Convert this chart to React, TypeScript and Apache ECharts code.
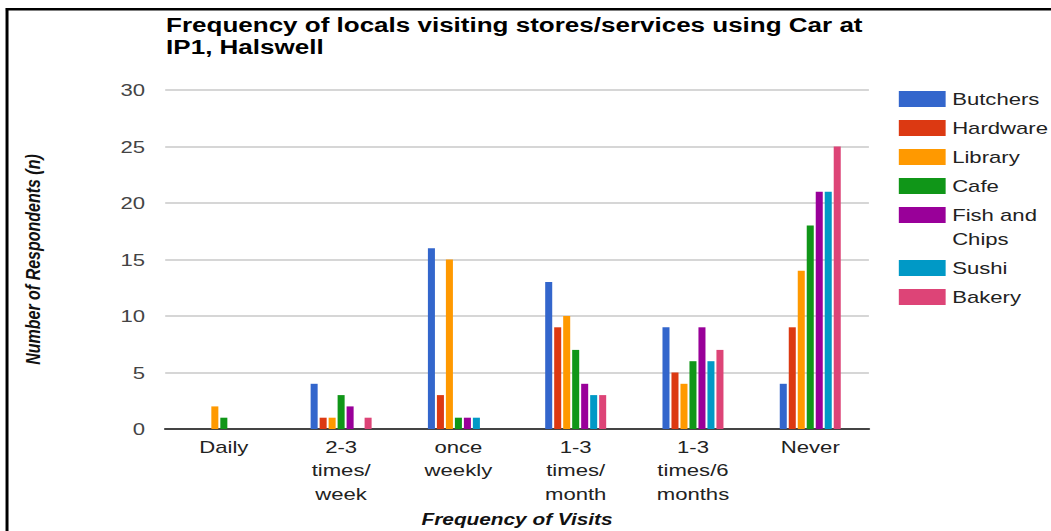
import React, { useEffect, useRef } from 'react';
import * as echarts from 'echarts';

// ---- data ----
const categories = ['Daily', '2-3 times/week', 'once weekly', '1-3 times/month', '1-3 times/6 months', 'Never'];
const tickLabels = ['Daily', '2-3\ntimes/\nweek', 'once\nweekly', '1-3\ntimes/\nmonth', '1-3\ntimes/6\nmonths', 'Never'];
const seriesNames = ['Butchers', 'Hardware', 'Library', 'Cafe', 'Fish and Chips', 'Sushi', 'Bakery'];
const butchers = [0, 4, 16, 13, 9, 4];
const hardware = [0, 1, 3, 9, 5, 9];
const library = [2, 1, 15, 10, 4, 14];
const cafe = [1, 3, 1, 7, 6, 18];
const fishAndChips = [0, 2, 1, 4, 9, 21];
const sushi = [0, 0, 1, 3, 6, 21];
const bakery = [0, 1, 0, 3, 7, 25];
const seriesValues = [butchers, hardware, library, cafe, fishAndChips, sushi, bakery];
const colors = ['#3366cc', '#dc3912', '#ff9900', '#109618', '#990099', '#0099c6', '#dd4477'];
const yMin = 0;
const yMax = 30;
const yInterval = 5;
const titleText = 'Frequency of locals visiting stores/services using Car at\nIP1, Halswell';
const xAxisTitle = 'Frequency of Visits';
const yAxisTitle = 'Number of Respondents (n)';

const FONT = '"Liberation Sans", Arial, sans-serif';
const PAGE_W = 1051;
const PAGE_H = 531;
const STRETCH = 1.3;
const INNER_W = Math.round(PAGE_W / STRETCH);
const SX = PAGE_W / INNER_W;

export default function App() {
  const ref = useRef<HTMLDivElement>(null);

  useEffect(() => {
    if (!ref.current) return;
    const chart = echarts.init(ref.current, undefined, { renderer: 'svg' });

    const legendBase: any = {
      orient: 'vertical',
      left: 691,
      padding: 0,
      itemWidth: 36,
      itemHeight: 16,
      itemGap: 5,
      icon: 'rect',
      selectedMode: false,
      textStyle: { fontFamily: FONT, fontSize: 17, lineHeight: 24, color: '#222' },
      formatter: (name: string) => (name === 'Fish and Chips' ? '\nFish and\nChips' : name),
    };

    chart.setOption({
      animation: false,
      color: colors,
      backgroundColor: '#fff',
      title: {
        text: titleText,
        left: 127.7,
        top: 14,
        padding: 0,
        textStyle: { fontFamily: FONT, fontWeight: 'bold', fontSize: 20, lineHeight: 22, color: '#000' },
      },
      legend: [
        { ...legendBase, top: 87, data: seriesNames.slice(0, 4) },
        { ...legendBase, top: 179, data: seriesNames.slice(4, 5) },
        { ...legendBase, top: 256, data: seriesNames.slice(5) },
      ],
      grid: { left: 127, right: INNER_W - 668, top: 90, bottom: PAGE_H - 429, containLabel: false, outerBoundsMode: 'none' },
      xAxis: {
        type: 'category',
        data: categories,
        name: xAxisTitle,
        nameLocation: 'middle',
        nameGap: 82,
        nameTextStyle: { fontFamily: FONT, fontWeight: 'bold', fontStyle: 'italic', fontSize: 16, lineHeight: 16, color: '#111' },
        axisLine: { show: true, lineStyle: { color: '#444', width: 2 } },
        axisTick: { show: false },
        axisLabel: {
          margin: 6,
          fontFamily: FONT,
          fontSize: 17,
          lineHeight: 23.5,
          color: '#222',
          interval: 0,
          formatter: (_v: string, i: number) => tickLabels[i],
        },
        splitLine: { show: false },
      },
      yAxis: {
        type: 'value',
        min: yMin,
        max: yMax,
        interval: yInterval,
        name: yAxisTitle,
        nameLocation: 'middle',
        nameGap: 94,
        nameTextStyle: { fontFamily: FONT, fontWeight: 'bold', fontStyle: 'italic', fontSize: 16, color: '#111' },
        axisLine: { show: false },
        axisTick: { show: false },
        axisLabel: { margin: 15.5, fontFamily: FONT, fontSize: 17, color: '#444' },
        splitLine: { show: true, lineStyle: { color: '#d6d6d6', width: 2 } },
      },
      series: seriesNames.map((name, i) => ({
        name,
        type: 'bar',
        data: seriesValues[i],
        barGap: '28%',
        barCategoryGap: '48%',
        itemStyle: { color: colors[i] },
      })),
      graphic: [
        { type: 'line', shape: { x1: 4.5, y1: 9.2, x2: INNER_W, y2: 9.2 }, style: { stroke: '#000', lineWidth: 2.6 } },
        { type: 'line', shape: { x1: 5.4, y1: 8, x2: 5.4, y2: PAGE_H }, style: { stroke: '#000', lineWidth: 2.3 } },
      ],
    });

    return () => chart.dispose();
  }, []);

  return (
    <div
      ref={ref}
      style={{
        position: 'absolute',
        left: 0,
        top: 0,
        width: INNER_W,
        height: PAGE_H,
        transform: `scaleX(${SX})`,
        transformOrigin: '0 0',
      }}
    />
  );
}
